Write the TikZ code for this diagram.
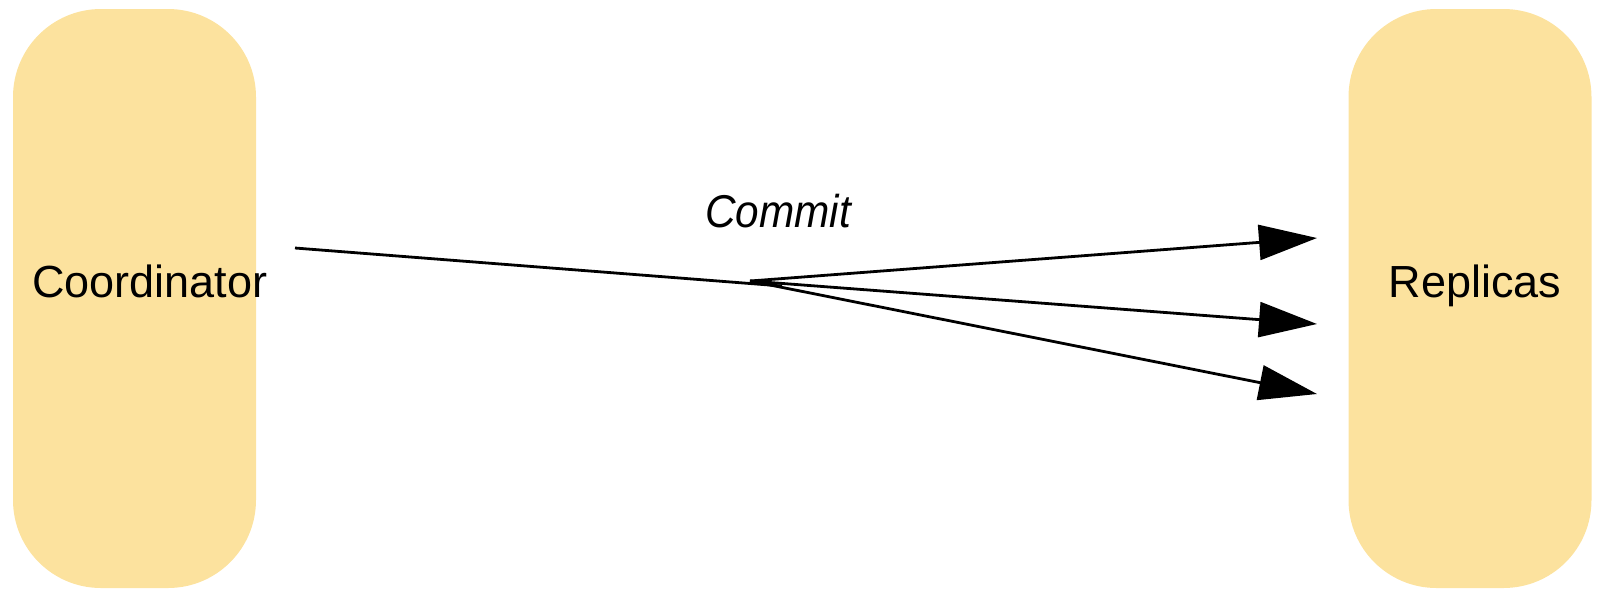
\documentclass[tikz,border=0pt]{standalone}
\usepackage{fontspec}
\setmainfont{Liberation Sans}
\usetikzlibrary{arrows.meta}
\definecolor{pillfill}{RGB}{252,226,158}
\begin{document}
\begin{tikzpicture}[x=0.5pt,y=-0.5pt,
  pill/.style={fill=pillfill,draw=none,rounded corners=44pt,minimum width=121.5pt,minimum height=289.5pt,inner sep=0pt},
  lbl/.style={font=\fontsize{22.5pt}{27pt}\selectfont,anchor=base,inner sep=0pt},
  msg/.style={line width=1.4pt,draw=black},
  arr/.style={msg,-{Triangle[length=29pt,width=17.5pt]}}]
\useasboundingbox (0,0) rectangle (1597,591);
\node[pill] (coord) at (134.5,298.5) {};
\node[pill] (repl) at (1470,298.5) {};
\node[lbl] (coordtxt) at (150,297) {Coordinator};
\node[lbl] (repltxt) at (1475,297) {Replicas};
\node[lbl,font=\fontsize{23pt}{27pt}\selectfont\addfontfeature{FakeStretch=0.92}\itshape] (committxt) at (778,227) {Commit};
\coordinate (src) at (295,248);
\coordinate (join) at (782,286);
\coordinate (fan) at (750,281);
\coordinate (t1) at (1317,238);
\coordinate (t2) at (1317,324);
\coordinate (t3) at (1317,394);
\draw[msg] (src) -- (join);
\draw[arr] (fan) -- (t1);
\draw[arr] (fan) -- (t2);
\draw[arr] (fan) -- (t3);
\end{tikzpicture}
\end{document}
